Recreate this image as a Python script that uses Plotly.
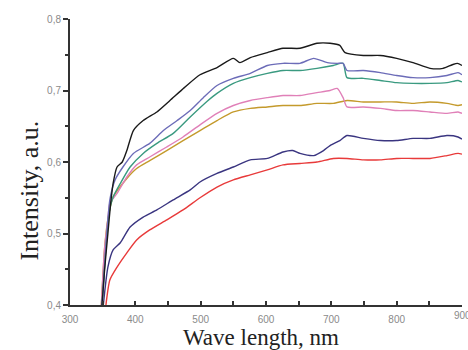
import plotly.graph_objects as go

# Wavelength (nm) / intensity (a.u.)
black_x = [349, 353, 358, 362, 366, 372, 380, 387, 397, 412, 433, 453, 475, 499, 525, 550, 560, 576, 602, 626, 652, 678, 698, 713, 721, 749, 775, 800, 825, 851, 871, 885, 893, 900]
black_y = [0.40, 0.45, 0.50, 0.54, 0.570, 0.593, 0.600, 0.616, 0.644, 0.658, 0.670, 0.686, 0.704, 0.722, 0.732, 0.745, 0.739, 0.746, 0.753, 0.759, 0.759, 0.766, 0.766, 0.763, 0.753, 0.749, 0.749, 0.745, 0.739, 0.731, 0.731, 0.736, 0.738, 0.735]

blue_x = [349, 354, 361, 369, 381, 397, 422, 443, 464, 484, 504, 525, 550, 576, 602, 626, 652, 673, 694, 709, 718, 724, 749, 775, 800, 825, 851, 877, 894, 900]
blue_y = [0.40, 0.47, 0.547, 0.575, 0.593, 0.612, 0.626, 0.644, 0.658, 0.672, 0.690, 0.707, 0.717, 0.724, 0.735, 0.738, 0.738, 0.745, 0.739, 0.738, 0.738, 0.728, 0.728, 0.725, 0.721, 0.718, 0.718, 0.721, 0.725, 0.722]

teal_x = [349, 355, 360, 366, 377, 392, 412, 433, 458, 484, 510, 525, 550, 576, 602, 626, 652, 678, 703, 718, 724, 749, 775, 800, 825, 851, 877, 894, 900]
teal_y = [0.40, 0.48, 0.53, 0.551, 0.570, 0.593, 0.612, 0.626, 0.640, 0.663, 0.685, 0.696, 0.710, 0.718, 0.724, 0.728, 0.728, 0.731, 0.735, 0.738, 0.718, 0.717, 0.714, 0.711, 0.710, 0.710, 0.711, 0.714, 0.712]

pink_x = [348, 353, 358, 361, 372, 387, 402, 422, 448, 473, 499, 525, 550, 576, 602, 626, 652, 678, 698, 709, 718, 724, 749, 775, 800, 825, 851, 877, 894, 900]
pink_y = [0.40, 0.48, 0.52, 0.542, 0.556, 0.579, 0.596, 0.607, 0.621, 0.635, 0.652, 0.668, 0.679, 0.686, 0.690, 0.693, 0.693, 0.697, 0.700, 0.703, 0.690, 0.677, 0.677, 0.675, 0.672, 0.672, 0.670, 0.668, 0.670, 0.668]

gold_x = [348, 353, 358, 366, 387, 402, 422, 448, 473, 499, 525, 550, 576, 602, 626, 652, 678, 703, 724, 749, 775, 800, 825, 851, 877, 894, 900]
gold_y = [0.40, 0.48, 0.52, 0.551, 0.577, 0.591, 0.602, 0.616, 0.630, 0.644, 0.658, 0.670, 0.675, 0.677, 0.679, 0.679, 0.682, 0.682, 0.686, 0.684, 0.684, 0.684, 0.682, 0.684, 0.682, 0.679, 0.680]

navy_x = [351, 358, 366, 377, 392, 412, 433, 458, 484, 499, 525, 550, 576, 602, 626, 641, 652, 673, 688, 698, 713, 724, 749, 775, 800, 825, 851, 877, 894, 900]
navy_y = [0.40, 0.453, 0.477, 0.487, 0.509, 0.523, 0.533, 0.547, 0.561, 0.572, 0.584, 0.593, 0.603, 0.605, 0.614, 0.616, 0.612, 0.609, 0.616, 0.623, 0.630, 0.637, 0.633, 0.630, 0.630, 0.633, 0.633, 0.637, 0.635, 0.632]

red_x = [355, 361, 372, 387, 402, 422, 448, 473, 499, 525, 550, 576, 602, 626, 652, 678, 703, 724, 749, 775, 800, 825, 851, 877, 894, 900]
red_y = [0.40, 0.435, 0.453, 0.473, 0.491, 0.505, 0.519, 0.533, 0.550, 0.565, 0.575, 0.582, 0.589, 0.596, 0.598, 0.600, 0.605, 0.605, 0.603, 0.603, 0.605, 0.605, 0.605, 0.609, 0.612, 0.611]

x_ticks = [300, 400, 500, 600, 700, 800, 900]
x_labels = ["300", "400", "500", "600", "700", "800", "900"]
y_ticks = [0.4, 0.5, 0.6, 0.7, 0.8]
y_labels = ["0,4", "0,5", "0,6", "0,7", "0,8"]

series = [
    (red_x, red_y, "#e83a3a"),
    (navy_x, navy_y, "#3a3580"),
    (gold_x, gold_y, "#c49a2c"),
    (pink_x, pink_y, "#e080b8"),
    (teal_x, teal_y, "#3a9a80"),
    (blue_x, blue_y, "#6c6cb8"),
    (black_x, black_y, "#1a1a1a"),
]

serif = "Liberation Serif, Times New Roman, serif"
tick_font = dict(size=10, color="#8a8a8a", family="Arial, Liberation Sans, sans-serif")

fig = go.Figure()
for xs, ys, c in series:
    fig.add_trace(go.Scatter(x=xs, y=ys, mode="lines", line=dict(color=c, width=1.4, shape="spline", smoothing=0.6),
                             showlegend=False, hoverinfo="skip"))

fig.update_layout(
    width=468, height=350,
    margin=dict(l=70, r=6, t=19, b=45),
    paper_bgcolor="white", plot_bgcolor="white",
    font=dict(family="Arial, Liberation Sans, sans-serif"),
)
fig.update_xaxes(
    range=[300, 900], showgrid=False, zeroline=False, automargin=False,
    showline=True, linecolor="#333", linewidth=2,
    tickvals=x_ticks[:-1], ticktext=x_labels[:-1],
    ticks="inside", ticklen=4, tickwidth=1.5, tickcolor="#333",
    minor=dict(ticks="inside", dtick=50, ticklen=4, tickwidth=1.5, tickcolor="#333"),
    tickfont=tick_font,
    ticklabelstandoff=4,
)
fig.update_yaxes(
    range=[0.4, 0.8], showgrid=False, zeroline=False, automargin=False,
    showline=True, linecolor="#333", linewidth=2,
    tickvals=y_ticks, ticktext=y_labels,
    ticks="outside", ticklen=5, tickwidth=1.5, tickcolor="#333",
    minor=dict(ticks="outside", dtick=0.05, ticklen=3, tickwidth=1.5, tickcolor="#333"),
    tickfont=tick_font,
)
# last x tick label (partly cut by the right edge in the reference)
fig.add_annotation(x=x_ticks[-1], y=0, xref="x", yref="paper", text=x_labels[-1],
                   showarrow=False, xanchor="center", yanchor="top", yshift=-3,
                   font=tick_font)
# x axis title
fig.add_annotation(x=0.487, y=0, xref="paper", yref="paper", text="Wave length, nm",
                   showarrow=False, xanchor="center", yanchor="middle", yshift=-32,
                   font=dict(family=serif, size=23, color="#222"))
# y axis title
fig.add_annotation(x=0, y=0.56, xref="paper", yref="y", text="Intensity, a.u.",
                   showarrow=False, textangle=-90, xanchor="center", yanchor="middle",
                   xshift=-40, font=dict(family=serif, size=26, color="#222"))

fig.write_html("out.html", config={"displayModeBar": False},
               post_script="document.body.style.margin='0';document.body.style.overflow='hidden';")
